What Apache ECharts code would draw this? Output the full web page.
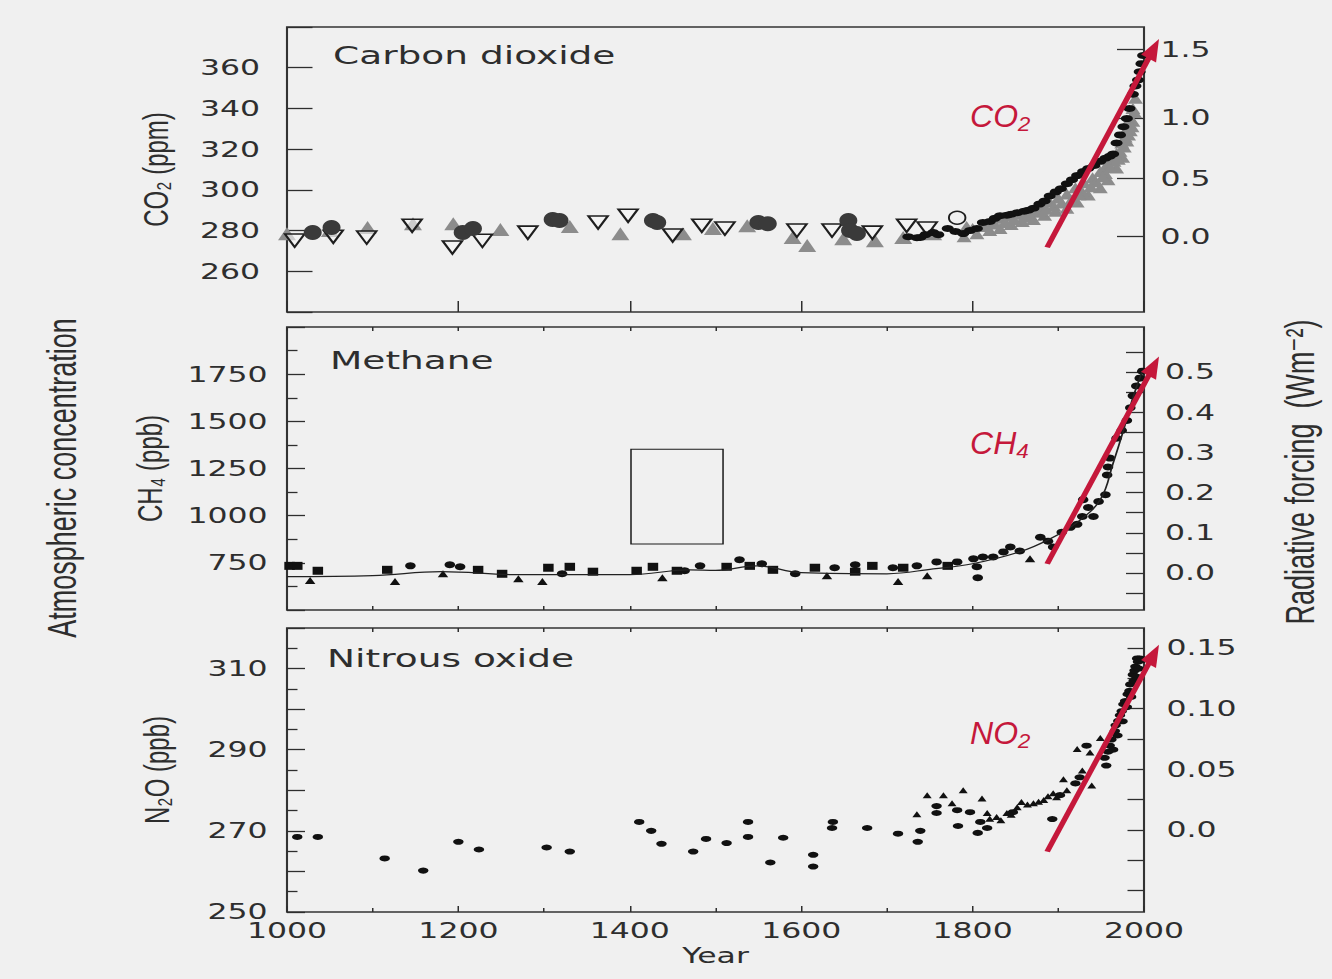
<!DOCTYPE html>
<html><head><meta charset="utf-8">
<script src="https://cdn.jsdelivr.net/npm/echarts@6/dist/echarts.min.js"></script>
<style>
html,body{margin:0;padding:0;background:#f0f0f0;width:1332px;height:979px;overflow:hidden}
#chart{position:absolute;left:0;top:0;width:888px;height:979px;transform:scaleX(1.5);transform-origin:0 0}
</style></head><body><div id="chart"></div>
<script>
// ---------- DATA (years, concentrations) ----------
const co2OpenTriangles = [[1009,275.1],[1054,277],[1093,276.6],[1146,282.4],[1193,271.7],[1228,275],[1281,279],[1363,284],[1398,287.3],[1450,277.6],[1484,282.4],[1511,281],[1595,280],[1636,280],[1683,279],[1723,282.4],[1747,281]];
const co2GreyTriangles = [[1000,278.5],[1050,280],[1094,281.5],[1147,283.4],[1194,283.4],[1249,280.5],[1330,282],[1389,278.5],[1462,278.5],[1497,281],[1537,282.4],[1590,276.6],[1607,272.7],[1649,276],[1686,275],[1719,276.6],[1754,278.5],[1793,281.5]];
const co2GreyModern = [[1800,281],[1812,283],[1822,284.5],[1832,286],[1842,287],[1852,288],[1862,288.8],[1871,290],[1880,292],[1890,294],[1900,296],[1910,298],[1920,301],[1930,303.5],[1940,306],[1949,309],[1956,312],[1962,315],[1968,318],[1974,323],[1980,330],[1984,335],[1987,340],[1990,345],
  [1790,277],[1805,278.5],[1820,280],[1832,281],[1845,283],[1858,284.5],[1871,285.4],[1884,287.5],[1897,289.5],[1910,291],[1922,294],[1935,297.5],[1949,301],[1958,305],[1968,310.7],[1975,316],[1980,324],[1984,329],[1987,333.7],
  [1815,282],[1838,284],[1860,286.5],[1878,289],[1895,292],[1915,295],[1928,299],[1944,304],[1955,308],[1965,314],[1972,319],[1978,326],
  [1826,283.2],[1848,285.5],[1866,287.6],[1886,290.5],[1904,293.6],[1924,297.6],[1938,301.5],[1952,306.5],[1961,311],[1970,315],[1977,321],[1982,327],[1986,331],[1989,338]];
const co2DarkCircles = [[1030,279],[1052,281.5],[1205,279],[1217,281],[1310,285.4],[1318,285],[1427,285],[1432,284],[1550,284],[1561,283.4],[1655,285],[1657,280],[1665,278.5]];
const co2OpenCircles = [[1782,286.3]];
const co2BlackModern = [[1725,277],[1735,276.5],[1739,276.6],[1745,278],[1754,279],[1760,278],[1771,281],[1780,279.5],[1789,278.5],[1797,280],[1805,281],[1812,284],[1820,284.5],[1826,286],[1832,287.3],[1840,287.5],[1845,288],[1852,288.8],[1860,289.5],[1865,290],[1871,291],[1878,293],[1884,294.5],[1890,297],[1897,299],[1903,300.5],[1910,303],[1916,305],[1922,307],[1929,309],[1935,310.5],[1942,312],[1949,314],[1955,315.5],[1960,316.5],[1964,317.6],[1968,323],[1972,327],[1976,331],[1980,335],[1983,340],[1987,347],[1990,351],[1993,354],[1995,358],[1997,362],[1999,366]];

const ch4Squares = [[1003,734],[1012,734],[1036,708],[1117,713],[1223,713],[1251,692],[1305,724],[1330,729],[1357,703],[1408,708],[1427,729],[1455,708],[1513,729],[1540,734],[1567,713],[1616,724],[1663,703],[1683,734],[1719,724],[1771,734]];
const ch4Circles = [[1144,734],[1190,740],[1202,729],[1321,692],[1464,708],[1482,734],[1528,766],[1554,745],[1593,692],[1639,724],[1663,740],[1707,724],[1735,734],[1758,755],[1782,755],[1801,771],[1805,729],[1806,671],[1812,781],[1824,781],[1836,808],[1844,834],[1855,813],[1879,886],[1888,865],[1894,834],[1904,912],[1914,938],[1922,954],[1928,996],[1929,1085],[1935,1043],[1941,996],[1947,1075],[1955,1111],[1957,1216],[1958,1258],[1960,1305],[1968,1410],[1974,1452],[1980,1504],[1984,1572],[1987,1635],[1991,1687],[1995,1729],[1998,1766]];
const ch4Triangles = [[1027,656],[1126,651],[1182,692],[1270,666],[1298,651],[1438,671],[1630,682],[1713,651],[1747,682],[1867,771]];
const ch4Fit = [[1000,677],[1100,682],[1180,703],[1270,687],[1400,687],[1470,713],[1500,710],[1548,734],[1600,698],[1700,692],[1754,718],[1800,745],[1855,808],[1890,876],[1922,965],[1949,1085],[1964,1279],[1976,1452],[1987,1624],[1998,1766]];

const n2oDots = [[1012,268.5],[1036,268.5],[1114,263.2],[1159,260.2],[1200,267.3],[1224,265.4],[1303,265.9],[1330,264.9],[1411,272.2],[1425,270],[1437,266.8],[1474,264.9],[1489,268],[1513,267],[1538,272.2],[1538,268.5],[1564,262.2],[1579,268.3],[1614,264.1],[1614,261.2],[1637,272.2],[1636,270.7],[1677,270.7],[1713,269.3],[1739,270],[1736,267.3],[1758,276.1],[1758,274.4],[1783,271.2],[1782,275.1],[1797,274.6],[1809,272.2],[1806,269.5],[1817,270.7],[1847,274.6],[1893,272.9],[1902,278.8],[1920,281.7],[1925,283.2],[1933,291],[1954,288],[1956,286.1],[1958,289.5],[1960,291],[1962,292.5],[1964,290],[1966,294.6],[1967,296],[1969,293.5],[1970,297.1],[1972,298.5],[1974,299.5],[1975,297],[1976,301.2],[1978,302],[1980,300.5],[1981,303.7],[1983,304.5],[1984,306.1],[1985,303],[1987,308.5],[1988,307],[1989,309.5],[1990,310.5],[1991,308],[1992,312.5],[1993,311.7],[1994,310],[1995,312.5],[1997,312],[1998,312.3]];
const n2oTriangles = [[1735,274.1],[1747,278.8],[1766,278.8],[1776,276.8],[1789,280],[1811,278],[1817,274.4],[1820,273],[1828,273.4],[1833,272.6],[1840,274.4],[1845,274],[1852,275.8],[1857,277.1],[1864,276.5],[1871,276.8],[1877,277.2],[1883,277.6],[1888,278.5],[1894,279.3],[1898,278.3],[1906,282.7],[1910,280],[1922,290.2],[1928,284.9],[1937,289.3],[1939,281.2],[1949,292.9]];

// ---------- TICK LABELS ----------
const yearLabels = [1000,1200,1400,1600,1800,2000];
const co2Labels = [260,280,300,320,340,360];
const ch4Labels = [750,1000,1250,1500,1750];
const n2oLabels = [250,270,290,310];
// CO2 forcing axis is non-linear: positions (ppm) of its ticks
const co2ForcingLabels = ['0.0','0.5','1.0','1.5'];
const co2ForcingPos = [277.1, 305.6, 335.3, 369];
const ch4ForcingLabels = [0, 0.1, 0.2, 0.3, 0.4, 0.5];
const ch4ForcingTicks = [-0.05, 0, 0.05, 0.1, 0.15, 0.2, 0.25, 0.3, 0.35, 0.4, 0.45, 0.5, 0.55];
const n2oForcingLabels = [0, 0.05, 0.10, 0.15];
const n2oForcingTicks = [-0.05, -0.025, 0, 0.025, 0.05, 0.075, 0.1, 0.125, 0.15];

// annotation arrows (data coordinates: [year, value])
const co2Arrow = [[1887, 271.7], [2017.5, 374.1]];
const ch4Arrow = [[1887, 745], [2017.5, 1844]];
const n2oArrow = [[1887, 264.9], [2017.5, 315.9]];
const boxCorners = [[1401.4, 1352], [1508.8, 849.5]];

// ---------- CHART ----------
const S = 1.5; // the original scan is stretched horizontally
const INK = '#2e2e2e';
const RED = '#c5183b';
const LBL = {fontFamily: 'DejaVu Sans', fontSize: 21, color: INK};
const TITLE = {fontFamily: 'DejaVu Sans', fontSize: 25, fontWeight: 'normal', color: INK};
const chart = echarts.init(document.getElementById('chart'), null, {renderer: 'svg'});

const gl = 191.33, gr = 125.33;
const gridBase = {left: gl, right: gr, show: true, borderColor: '#333', borderWidth: 1.4, backgroundColor: 'transparent', containLabel: false, outerBoundsMode: 'none'};
function tick(len, w) { return {show: true, inside: true, length: len, lineStyle: {color: INK, width: w || 1.3}}; }
function xAx(grid, pos, interval, len, extra) {
  return Object.assign({type: 'value', gridIndex: grid, position: pos, min: 1000, max: 2000, interval: interval,
    axisLine: {show: false, onZero: false}, splitLine: {show: false}, axisLabel: {show: false}, axisTick: tick(len, 1)}, extra || {});
}
const labelSet = (arr) => (v) => arr.some(a => Math.abs(a - v) < 1e-6) ? String(v) : '';

const option = {
  backgroundColor: '#f0f0f0',
  animation: false,
  title: [
    {text: 'Carbon dioxide', left: 222, top: 43, padding: 0, textStyle: TITLE},
    {text: 'Methane', left: 220, top: 348, padding: 0, textStyle: TITLE},
    {text: 'Nitrous oxide', left: 218, top: 646, padding: 0, textStyle: TITLE}
  ],
  grid: [
    Object.assign({top: 27, height: 285}, gridBase),
    Object.assign({top: 327, height: 283}, gridBase),
    Object.assign({top: 628, height: 284}, gridBase)
  ],
  xAxis: [
    xAx(0, 'bottom', 200, 11),
    xAx(1, 'bottom', 100, 4),
    xAx(1, 'top', 100, 4),
    xAx(2, 'bottom', 200, 6, {
      axisLabel: Object.assign({show: true, margin: 8, formatter: labelSet(yearLabels)}, LBL),
      minorTick: {show: true, splitNumber: 2, length: 4, lineStyle: {color: INK, width: 1}},
      name: 'Year', nameLocation: 'middle', nameGap: 33,
      nameTextStyle: {fontFamily: 'DejaVu Sans', fontSize: 21, color: INK}
    }),
    xAx(2, 'top', 100, 4)
  ],
  yAxis: [
    {type: 'value', gridIndex: 0, position: 'left', min: 240, max: 380, interval: 20,
      axisLine: {show: false}, splitLine: {show: false}, axisTick: tick(17),
      axisLabel: Object.assign({margin: 18, formatter: labelSet(co2Labels)}, LBL),
      name: 'CO₂ (ppm)', nameLocation: 'middle', nameGap: 76,
      nameTextStyle: {fontFamily: 'Liberation Sans', fontSize: 24, color: INK}},
    {type: 'value', gridIndex: 0, position: 'right', min: 240, max: 380,
      axisLine: {show: false}, splitLine: {show: false},
      axisTick: Object.assign(tick(18), {customValues: co2ForcingPos}),
      axisLabel: Object.assign({margin: 11, customValues: co2ForcingPos,
        formatter: (v) => { let b = 0; co2ForcingPos.forEach((p, i) => { if (Math.abs(p - v) < Math.abs(co2ForcingPos[b] - v)) b = i; }); return co2ForcingLabels[b]; }}, LBL)},
    {type: 'value', gridIndex: 1, position: 'left', min: 500, max: 2000, interval: 250,
      axisLine: {show: false}, splitLine: {show: false}, axisTick: tick(12),
      minorTick: {show: true, splitNumber: 2, length: 7, lineStyle: {color: INK, width: 1.3}},
      axisLabel: Object.assign({margin: 13, formatter: labelSet(ch4Labels)}, LBL),
      name: 'CH₄ (ppb)', nameLocation: 'middle', nameGap: 80,
      nameTextStyle: {fontFamily: 'Liberation Sans', fontSize: 24, color: INK}},
    {type: 'value', gridIndex: 1, position: 'right', min: -0.092, max: 0.612,
      axisLine: {show: false}, splitLine: {show: false},
      axisTick: Object.assign(tick(12), {customValues: ch4ForcingTicks}),
      axisLabel: Object.assign({margin: 14, customValues: ch4ForcingLabels, formatter: (v) => v.toFixed(1)}, LBL)},
    {type: 'value', gridIndex: 2, position: 'left', min: 250, max: 320, interval: 10,
      axisLine: {show: false}, splitLine: {show: false}, axisTick: tick(12),
      minorTick: {show: true, splitNumber: 2, length: 7, lineStyle: {color: INK, width: 1.3}},
      axisLabel: Object.assign({margin: 13, formatter: labelSet(n2oLabels)}, LBL),
      name: 'N₂O (ppb)', nameLocation: 'middle', nameGap: 75,
      nameTextStyle: {fontFamily: 'Liberation Sans', fontSize: 24, color: INK}},
    {type: 'value', gridIndex: 2, position: 'right', min: -0.0676, max: 0.1665,
      axisLine: {show: false}, splitLine: {show: false},
      axisTick: Object.assign(tick(11), {customValues: n2oForcingTicks}),
      axisLabel: Object.assign({margin: 15, customValues: n2oForcingLabels, formatter: (v) => v === 0 ? '0.0' : v.toFixed(2)}, LBL)}
  ],
  series: [
    {type: 'scatter', name: 'co2 grey', xAxisIndex: 0, yAxisIndex: 0, data: co2GreyTriangles, symbol: 'triangle', symbolSize: [12, 13], itemStyle: {color: '#8c8c8c', opacity: 1}},
    {type: 'scatter', name: 'co2 grey modern', xAxisIndex: 0, yAxisIndex: 0, data: co2GreyModern, symbol: 'triangle', symbolSize: [10, 11], itemStyle: {color: '#8c8c8c', opacity: 1}},
    {type: 'scatter', name: 'co2 open tri', xAxisIndex: 0, yAxisIndex: 0, data: co2OpenTriangles, symbol: 'triangle', symbolRotate: 180, symbolSize: [13, 13], itemStyle: {color: 'rgba(245,245,245,0.6)', borderColor: '#1e1e1e', borderWidth: 1.6, opacity: 1}},
    {type: 'scatter', name: 'co2 circles', xAxisIndex: 0, yAxisIndex: 0, data: co2DarkCircles, symbol: 'circle', symbolSize: [12, 15], itemStyle: {color: '#3a3a3a', opacity: 1}},
    {type: 'scatter', name: 'co2 open circle', xAxisIndex: 0, yAxisIndex: 0, data: co2OpenCircles, symbol: 'circle', symbolSize: [11, 13], itemStyle: {color: 'rgba(0,0,0,0)', borderColor: '#1e1e1e', borderWidth: 1.4, opacity: 1}},
    {type: 'scatter', name: 'co2 modern', xAxisIndex: 0, yAxisIndex: 0, data: co2BlackModern, symbol: 'circle', symbolSize: [8, 7], itemStyle: {color: '#111', opacity: 1}},

    {type: 'line', name: 'ch4 fit', xAxisIndex: 1, yAxisIndex: 2, data: ch4Fit, smooth: 0.4, showSymbol: false, lineStyle: {color: '#222', width: 1.2}},
    {type: 'scatter', name: 'ch4 squares', xAxisIndex: 1, yAxisIndex: 2, data: ch4Squares, symbol: 'rect', symbolSize: [7, 8], itemStyle: {color: '#111', opacity: 1}},
    {type: 'scatter', name: 'ch4 circles', xAxisIndex: 1, yAxisIndex: 2, data: ch4Circles, symbol: 'circle', symbolSize: [7, 7], itemStyle: {color: '#111', opacity: 1}},
    {type: 'scatter', name: 'ch4 triangles', xAxisIndex: 1, yAxisIndex: 2, data: ch4Triangles, symbol: 'triangle', symbolSize: [7, 7], itemStyle: {color: '#111', opacity: 1}},

    {type: 'scatter', name: 'n2o dots', xAxisIndex: 3, yAxisIndex: 4, data: n2oDots, symbol: 'circle', symbolSize: [7, 6], itemStyle: {color: '#111', opacity: 1}},
    {type: 'scatter', name: 'n2o triangles', xAxisIndex: 3, yAxisIndex: 4, data: n2oTriangles, symbol: 'triangle', symbolSize: [6, 6], itemStyle: {color: '#111', opacity: 1}}
  ]
};
chart.setOption(option);

// ---------- annotations (positions via the chart's own scales) ----------
function toPx(xi, yi, pt) { return chart.convertToPixel({xAxisIndex: xi, yAxisIndex: yi}, pt); }
function arrow(xi, yi, seg) {
  const p0 = toPx(xi, yi, seg[0]), p1 = toPx(xi, yi, seg[1]);
  const a = [p0[0] * S, p0[1]], b = [p1[0] * S, p1[1]];
  const dx = b[0] - a[0], dy = b[1] - a[1], len = Math.hypot(dx, dy), ux = dx / len, uy = dy / len;
  const L = 22, W = 8.5;
  const base = [b[0] - ux * L, b[1] - uy * L];
  const l = [base[0] - uy * W, base[1] + ux * W], r = [base[0] + uy * W, base[1] - ux * W];
  const un = (p) => [p[0] / S, p[1]];
  return [
    {type: 'line', z: 100, shape: {x1: a[0] / S, y1: a[1], x2: (base[0] + ux * 3) / S, y2: base[1] + uy * 3}, style: {stroke: RED, lineWidth: 3.8}},
    {type: 'polygon', z: 100, shape: {points: [un(b), un(l), un(r)]}, style: {fill: RED}}
  ];
}
function redLabel(xi, yi, pt, text) {
  const p = toPx(xi, yi, pt);
  return {type: 'text', z: 100, x: p[0], y: p[1], scaleX: 1 / S,
    style: {text: text, fill: RED, font: 'italic 32px "Liberation Sans", "DejaVu Sans"', align: 'left', verticalAlign: 'middle'}};
}
const b0 = toPx(1, 2, boxCorners[0]), b1 = toPx(1, 2, boxCorners[1]);
const graphics = [].concat(
  arrow(0, 0, co2Arrow), arrow(1, 2, ch4Arrow), arrow(3, 4, n2oArrow),
  [redLabel(0, 0, [1797, 336.5], 'CO₂'), redLabel(1, 2, [1797, 1385], 'CH₄'), redLabel(3, 4, [1797, 294], 'NO₂'),
   {type: 'rect', z: 50, shape: {x: b0[0], y: b0[1], width: b1[0] - b0[0], height: b1[1] - b0[1]}, style: {fill: 'none', stroke: '#1a1a1a', lineWidth: 1}},
   {type: 'text', x: 41.3, y: 478, rotation: Math.PI / 2, style: {text: 'Atmospheric concentration', font: '27px "Liberation Sans"', fill: INK, align: 'center', verticalAlign: 'middle'}},
   {type: 'text', x: 866.7, y: 472, rotation: Math.PI / 2, style: {text: 'Radiative forcing  (Wm⁻²)', font: '27px "Liberation Sans", "DejaVu Sans"', fill: INK, align: 'center', verticalAlign: 'middle'}}]
);
chart.setOption({graphic: graphics});
</script></body></html>
